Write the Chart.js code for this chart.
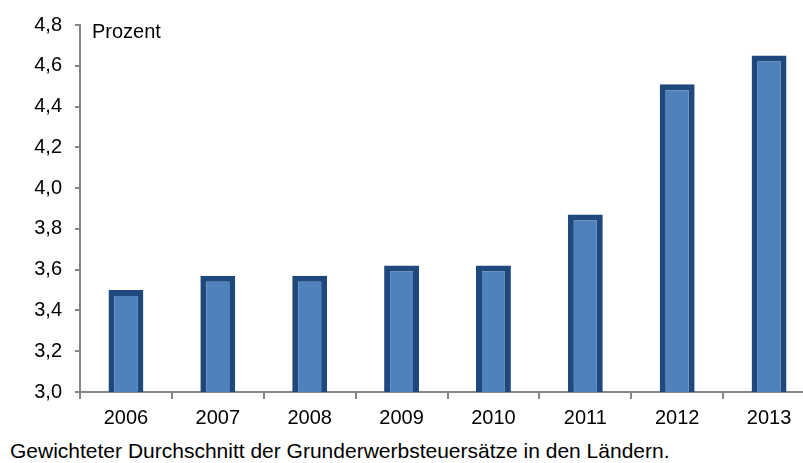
<!DOCTYPE html>
<html lang="de">
<head>
<meta charset="utf-8">
<title>Grunderwerbsteuer</title>
<script src="https://cdn.jsdelivr.net/npm/chart.js@4"></script>
<style>
  html, body { margin: 0; padding: 0; background: #fff; overflow: hidden; }
  #wrap { position: relative; width: 815px; height: 437px; }
  #caption {
    position: absolute; left: 10px; top: 439px; line-height: 24px;
    font: 21px Arial, "Liberation Sans", sans-serif; color: #000;
    white-space: nowrap;
  }
</style>
</head>
<body>
<div id="wrap"><canvas id="satz"></canvas></div>
<div id="caption">Gewichteter Durchschnitt der Grunderwerbsteuersätze in den Ländern.</div>
<script>
// Jahre und gewichtete Steuersätze (Prozent)
const jahre = ['2006', '2007', '2008', '2009', '2010', '2011', '2012', '2013'];
const saetze = [3.50, 3.57, 3.57, 3.62, 3.62, 3.87, 4.51, 4.65];
const yMin = 3.0;
const yMax = 4.8;
const yStep = 0.2;

const achsenGrau = '#868686';
const schrift = 'Arial, "Liberation Sans", sans-serif';

// Einheit oben links im Diagramm
const einheit = {
    id: 'einheit',
    afterDraw(chart) {
        const c = chart.ctx;
        c.save();
        c.font = '20px ' + schrift;
        c.fillStyle = '#000';
        c.textBaseline = 'top';
        c.fillText('Prozent', chart.chartArea.left + 12, chart.chartArea.top - 3);
        c.restore();
    }
};

const ctx = document.getElementById('satz').getContext('2d');
const chart = new Chart(ctx, {
    type: 'bar',
    data: {
        labels: jahre,
        datasets: [{
            label: 'Grunderwerbsteuersatz',
            data: saetze,
            backgroundColor: '#4F81BD',
            borderColor: '#1F497D',
            borderWidth: 6,
            borderSkipped: false,
            barPercentage: 0.38,
            categoryPercentage: 1
        }]
    },
    options: {
        responsive: true,
        maintainAspectRatio: false,
        animation: false,
        layout: { padding: { top: 7, right: 0, bottom: 0, left: 0 } },
        plugins: {
            legend: { display: false },
            tooltip: { enabled: false }
        },
        scales: {
            x: {
                grid: { drawOnChartArea: false, tickLength: 7, color: achsenGrau, lineWidth: 2 },
                border: { color: achsenGrau, width: 2 },
                ticks: { color: '#000', font: { family: schrift, size: 20 }, padding: 7 }
            },
            y: {
                min: yMin,
                max: yMax,
                afterFit(scale) { scale.width = 80; },
                grid: { drawOnChartArea: false, tickLength: 5, color: achsenGrau, lineWidth: 2 },
                border: { color: achsenGrau, width: 2 },
                ticks: {
                    stepSize: yStep,
                    padding: 13,
                    color: '#000',
                    font: { family: schrift, size: 20 },
                    callback: v => v.toFixed(1).replace('.', ',')
                }
            }
        }
    },
    plugins: [einheit]
});
</script>
</body>
</html>
